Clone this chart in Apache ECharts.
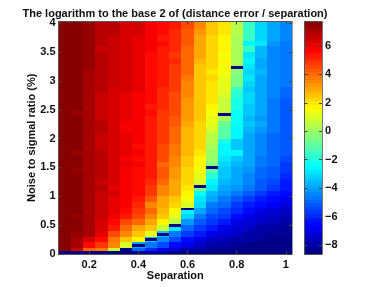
<!DOCTYPE html>
<html><head><meta charset="utf-8">
<style>html,body{margin:0;padding:0;background:#fff}#c{width:382px;height:287px;filter:blur(0.4px)}</style>
<script src="https://cdn.jsdelivr.net/npm/echarts@6/dist/echarts.min.js"></script>
</head><body><div id="c"></div>
<script>
const titleText = 'The logarithm to the base 2 of (distance error / separation)';
const xLabel = 'Separation';
const yLabel = 'Noise to sigmal ratio (%)';
const xTicks = [0.2,0.4,0.6,0.8,1];
const yTicks = [0,0.5,1,1.5,2,2.5,3,3.5,4];
const cbTicks = [-8,-6,-4,-2,0,2,4,6];
const colorMin = -8.63, colorMax = 7.72;
const yMax = 4.03;
const yEdges = [0,0.05,0.1,0.2,0.3,0.4,0.5,0.6,0.7,0.8,0.9,1,1.1,1.2,1.3,1.4,1.5,1.6,1.7,1.8,1.9,2,2.1,2.2,2.3,2.4,2.5,2.6,2.7,2.8,2.9,3,3.1,3.2,3.3,3.4,3.5,3.6,3.7,3.8,3.9,4.03];
const separations = [0.1,0.15,0.2,0.25,0.3,0.35,0.4,0.45,0.5,0.55,0.6,0.65,0.7,0.75,0.8,0.85,0.9,0.95,1];
const c10=[-8.6,7.5,7.6,7.6,7.6,7.6,7.6,7.6,7.6,7.6,7.6,7.6,7.6,7.6,7.6,7.6,7.6,7.6,7.6,7.6,7.6,7.6,7.6,7.6,7.6,7.6,7.6,7.6,7.6,7.6,7.6,7.6,7.6,7.6,7.6,7.6,7.6,7.6,7.6,7.6,7.6];
const c15=[-8.6,6.6,7.0,7.2,7.3,7.5,7.5,7.4,7.5,7.5,7.5,7.6,7.5,7.6,7.5,7.4,7.5,7.5,7.4,7.5,7.5,7.5,7.6,7.6,7.5,7.4,7.6,7.6,7.6,7.6,7.6,7.6,7.6,7.6,7.6,7.5,7.5,7.6,7.6,7.6,7.6];
const c20=[-8.6,4.0,5.6,6.4,7.0,7.1,7.2,7.2,7.2,7.2,7.2,7.2,7.2,7.2,7.2,7.2,7.2,7.2,7.2,7.2,7.2,7.2,7.2,7.1,7.1,7.1,7.1,7.2,7.2,7.2,7.2,7.2,7.2,7.3,7.3,7.3,7.3,7.3,7.3,7.3,7.3];
const c25=[-8.6,3.8,4.7,5.5,6.1,6.3,6.4,6.5,6.5,6.6,6.6,6.6,6.7,6.6,6.7,6.7,6.7,6.7,6.7,6.6,6.6,6.6,6.7,6.7,6.5,6.6,6.5,6.6,6.6,6.7,6.7,6.8,6.9,6.9,6.9,6.7,6.6,6.7,6.7,6.9,6.9];
const c30=[-8.6,0.8,3.4,3.8,4.6,5.3,5.6,5.8,6.0,6.1,6.1,6.2,6.1,6.2,6.3,6.3,6.3,6.2,6.3,6.2,6.3,6.3,6.2,6.2,6.4,6.4,6.4,6.3,6.3,6.4,6.5,6.5,6.5,6.6,6.6,6.6,6.6,6.5,6.6,6.7,6.7];
const c35=[-8.6,-8.6,1.0,2.4,3.4,4.0,4.5,5.2,5.6,5.7,5.7,5.8,5.8,5.9,5.9,5.9,6.0,5.9,6.0,6.0,6.0,6.0,5.9,5.9,6.0,6.0,6.1,6.0,6.1,6.2,6.2,6.2,6.3,6.2,6.2,6.3,6.3,6.3,6.3,6.3,6.3];
const c40=[-8.6,-5.0,-4.0,1.6,2.4,3.1,3.9,4.4,4.8,5.1,5.3,5.5,5.5,5.6,5.6,5.6,5.7,5.6,5.7,5.6,5.7,5.7,5.8,5.8,5.8,5.8,5.8,5.9,5.9,6.0,6.0,6.0,6.0,6.0,6.1,6.1,6.1,6.1,6.1,6.2,6.2];
const c45=[-8.0,-6.0,-4.6,-3.4,1.3,2.5,3.0,3.4,3.9,3.6,4.2,4.7,4.9,5.0,5.2,5.2,5.3,5.3,5.3,5.3,5.3,5.3,5.4,5.4,5.4,5.5,5.4,5.5,5.5,5.6,5.5,5.6,5.6,5.6,5.6,5.6,5.7,5.7,5.7,5.8,5.8];
const c50=[-8.2,-6.6,-5.5,-4.3,-3.5,0.8,1.6,2.4,2.8,3.0,3.1,3.4,3.6,3.9,4.2,4.3,4.1,4.4,4.5,4.6,4.7,4.7,4.8,4.8,4.8,4.9,5.0,5.0,5.1,5.1,5.2,5.3,5.3,5.3,5.4,5.4,5.4,5.5,5.4,5.5,5.6];
const c55=[-8.4,-7.2,-6.4,-5.5,-4.6,-2.8,0.4,1.1,1.8,2.3,2.5,2.9,3.0,3.1,3.2,3.2,3.4,3.6,3.8,3.7,3.9,3.9,4.1,4.2,4.3,4.4,4.5,4.5,4.6,4.7,4.7,4.8,4.9,4.9,5.0,4.9,5.0,5.0,5.0,5.1,5.2];
const c60=[-8.5,-7.9,-7.0,-6.4,-5.8,-5.0,-4.2,-3.2,-2.5,1.0,1.4,1.7,1.9,2.2,2.3,2.3,2.5,2.6,2.7,2.7,2.7,2.8,2.8,3.0,3.2,3.3,3.3,3.3,3.4,3.4,3.6,3.8,3.9,4.0,4.0,4.0,4.1,4.2,4.2,4.3,4.4];
const c65=[-8.6,-8.0,-7.4,-7.0,-6.3,-5.8,-5.3,-4.6,-3.9,-3.2,-2.8,-2.4,-0.5,1.0,1.3,1.5,1.6,1.8,2.0,2.1,2.2,2.3,2.2,2.3,2.4,2.4,2.5,2.5,2.5,2.6,2.6,2.6,2.6,2.6,2.7,3.0,3.0,3.1,3.0,3.3,3.4];
const c70=[-8.6,-8.3,-7.9,-7.5,-7.0,-6.3,-5.8,-5.4,-5.0,-4.6,-4.0,-3.6,-3.0,-2.5,-1.8,-1.0,-0.2,-0.1,0.0,0.2,0.4,0.5,0.9,1.2,1.3,1.5,1.6,1.9,1.9,2.0,2.0,2.1,2.0,2.1,2.1,2.2,2.1,2.1,2.2,2.4,2.5];
const c75=[-8.6,-8.4,-8.0,-7.7,-7.3,-6.9,-6.2,-5.8,-5.5,-5.0,-4.6,-4.2,-3.8,-3.6,-3.5,-3.5,-3.2,-2.9,-2.5,-2.5,-2.2,-1.0,-1.0,-0.9,0.2,0.6,0.8,0.7,1.0,1.1,1.1,1.2,1.5,1.5,1.6,1.5,1.6,1.7,1.8,1.9,1.9];
const c80=[-8.6,-8.5,-8.2,-7.9,-7.6,-7.2,-6.9,-6.4,-5.9,-5.6,-5.2,-4.6,-4.2,-3.9,-3.9,-3.8,-3.6,-3.5,-2.6,-3.5,-3.5,-2.5,-2.5,-2.4,-2.3,-2.3,-2.2,-2.1,-1.8,-1.7,-0.7,-0.6,-0.4,0.1,0.1,0.1,0.1,0.2,0.2,0.4,0.4];
const c85=[-8.6,-8.6,-8.4,-8.1,-7.9,-7.6,-7.2,-6.9,-6.5,-6.1,-5.7,-5.3,-4.7,-4.4,-4.3,-4.2,-4.0,-3.9,-3.9,-3.9,-3.9,-3.8,-3.7,-3.5,-3.6,-3.5,-3.5,-3.2,-3.1,-3.5,-3.1,-3.0,-3.1,-2.9,-2.7,-2.8,-1.5,-2.5,-1.6,-1.5,-1.5];
const c90=[-8.6,-8.6,-8.5,-8.3,-8.1,-7.9,-7.5,-7.2,-6.9,-6.5,-6.1,-5.7,-5.3,-5.1,-5.0,-4.9,-4.7,-4.6,-4.5,-4.5,-4.5,-4.4,-4.1,-4.0,-4.1,-4.0,-4.0,-3.9,-3.8,-3.8,-3.8,-3.8,-3.7,-3.8,-3.8,-3.7,-3.7,-2.9,-3.2,-3.2,-3.2];
const c95=[-8.6,-8.6,-8.6,-8.4,-8.2,-8.0,-7.8,-7.5,-7.2,-6.8,-6.5,-6.2,-5.6,-5.5,-5.3,-5.2,-5.0,-5.0,-4.9,-4.8,-4.8,-4.8,-4.7,-4.7,-4.7,-4.6,-4.6,-4.7,-4.4,-4.3,-4.3,-4.3,-4.3,-4.3,-4.3,-4.3,-4.3,-4.2,-4.0,-4.0,-4.0];
const c100=[-8.6,-8.6,-8.6,-8.5,-8.3,-8.2,-8.0,-7.7,-7.5,-7.1,-6.8,-6.5,-6.2,-6.1,-5.9,-5.7,-5.6,-5.4,-5.3,-5.2,-5.2,-5.2,-5.1,-5.2,-5.1,-5.1,-5.1,-5.1,-5.0,-4.9,-4.7,-4.7,-4.7,-4.7,-4.6,-4.6,-4.6,-4.6,-4.5,-4.4,-4.4];
const columns = [c10,c15,c20,c25,c30,c35,c40,c45,c50,c55,c60,c65,c70,c75,c80,c85,c90,c95,c100];
const dashX = [0.4,0.45,0.5,0.55,0.6,0.65,0.7,0.75,0.8];
const dashY = [0.155,0.25,0.345,0.495,0.78,1.165,1.505,2.42,3.23];

function jet(v){
  let t=(v-colorMin)/(colorMax-colorMin); t=Math.min(.9999,Math.max(0,t));
  t=(Math.floor(t*64)+.5)/64;
  const c=x=>Math.round(255*Math.min(1,Math.max(0,x)));
  return `rgb(${c(1.5-Math.abs(4*t-3))},${c(1.5-Math.abs(4*t-2))},${c(1.5-Math.abs(4*t-1))})`;
}
const cells=[];
columns.forEach((col,i)=>col.forEach((v,j)=>cells.push([separations[i]-.025,separations[i]+.025,yEdges[j],yEdges[j+1],v])));
dashX.forEach((x,i)=>cells.push([x-.025,x+.025,dashY[i]-.025,dashY[i]+.025,-8.6]));
const bar=[];
for(let i=0;i<64;i++){const a=colorMin+(colorMax-colorMin)*i/64,b=colorMin+(colorMax-colorMin)*(i+1)/64;bar.push([0,1,a,b,(a+b)/2]);}
function renderRect(p,api){
  const a=api.coord([api.value(0),api.value(2)]),b=api.coord([api.value(1),api.value(3)]);
  const x=Math.round(a[0]),X=Math.round(b[0]),y=Math.round(b[1]),Y=Math.round(a[1]);
  return {type:'rect',shape:{x,y,width:X-x,height:Y-y},style:{fill:jet(api.value(4))}};
}
const txt={fontFamily:'Liberation Sans',fontWeight:'bold',fontSize:11,color:'#111'};
const line=c=>({onZero:false,lineStyle:{color:c,width:1}});
const tick=(vals)=>({show:true,inside:true,length:3,customValues:vals,lineStyle:{color:'#444',width:1}});
const fmt=v=>String(+(+v).toFixed(2));
const option={
  animation:false,backgroundColor:'#fff',
  title:{text:titleText,left:170,top:3,textAlign:'center',textStyle:{...txt}},
  grid:[{left:58.5,top:21.5,width:233.5,height:232.5},{left:304.5,top:21.5,width:17.5,height:232.5}],
  xAxis:[
   {gridIndex:0,type:'value',min:0.075,max:1.025,position:'bottom',z:5,splitLine:{show:false},axisLine:line('#555'),axisTick:tick(xTicks),
    axisLabel:{...txt,customValues:xTicks,formatter:fmt,margin:5,hideOverlap:false},name:xLabel,nameLocation:'middle',nameGap:16,nameMoveOverlap:false,nameTextStyle:{...txt,verticalAlign:'top'}},
   {gridIndex:0,type:'value',min:0.075,max:1.025,position:'top',z:5,splitLine:{show:false},axisLine:line('#555'),axisTick:tick(xTicks),axisLabel:{show:false}},
   {gridIndex:1,type:'value',min:0,max:1,position:'bottom',z:5,splitLine:{show:false},axisLine:line('#555'),axisTick:{show:false},axisLabel:{show:false}},
   {gridIndex:1,type:'value',min:0,max:1,position:'top',z:5,splitLine:{show:false},axisLine:line('#555'),axisTick:{show:false},axisLabel:{show:false}}
  ],
  yAxis:[
   {gridIndex:0,type:'value',min:0,max:yMax,position:'left',z:5,splitLine:{show:false},axisLine:line('#555'),axisTick:tick(yTicks),
    axisLabel:{...txt,customValues:yTicks,formatter:fmt,margin:3},name:yLabel,nameLocation:'middle',nameGap:27,nameMoveOverlap:false,nameTextStyle:{...txt,verticalAlign:'middle'}},
   {gridIndex:0,type:'value',min:0,max:yMax,position:'right',z:5,splitLine:{show:false},axisLine:line('#999'),axisTick:tick(yTicks),axisLabel:{show:false}},
   {gridIndex:1,type:'value',min:colorMin,max:colorMax,position:'right',z:5,splitLine:{show:false},axisLine:line('#777'),axisTick:tick(cbTicks),
    axisLabel:{...txt,customValues:cbTicks,formatter:v=>String(v).replace('-','\u2212'),margin:3}},
   {gridIndex:1,type:'value',min:colorMin,max:colorMax,position:'left',z:5,splitLine:{show:false},axisLine:line('#555'),axisTick:tick(cbTicks),axisLabel:{show:false}}
  ],
  series:[
   {type:'custom',xAxisIndex:0,yAxisIndex:0,data:cells,renderItem:renderRect,silent:true,clip:true,encode:{x:[0,1],y:[2,3]},progressive:0},
   {type:'custom',xAxisIndex:2,yAxisIndex:2,data:bar,renderItem:renderRect,silent:true,clip:true,encode:{x:[0,1],y:[2,3]},progressive:0}
  ]
};
echarts.init(document.getElementById('c'),null,{renderer:'canvas'}).setOption(option);
</script></body></html>
